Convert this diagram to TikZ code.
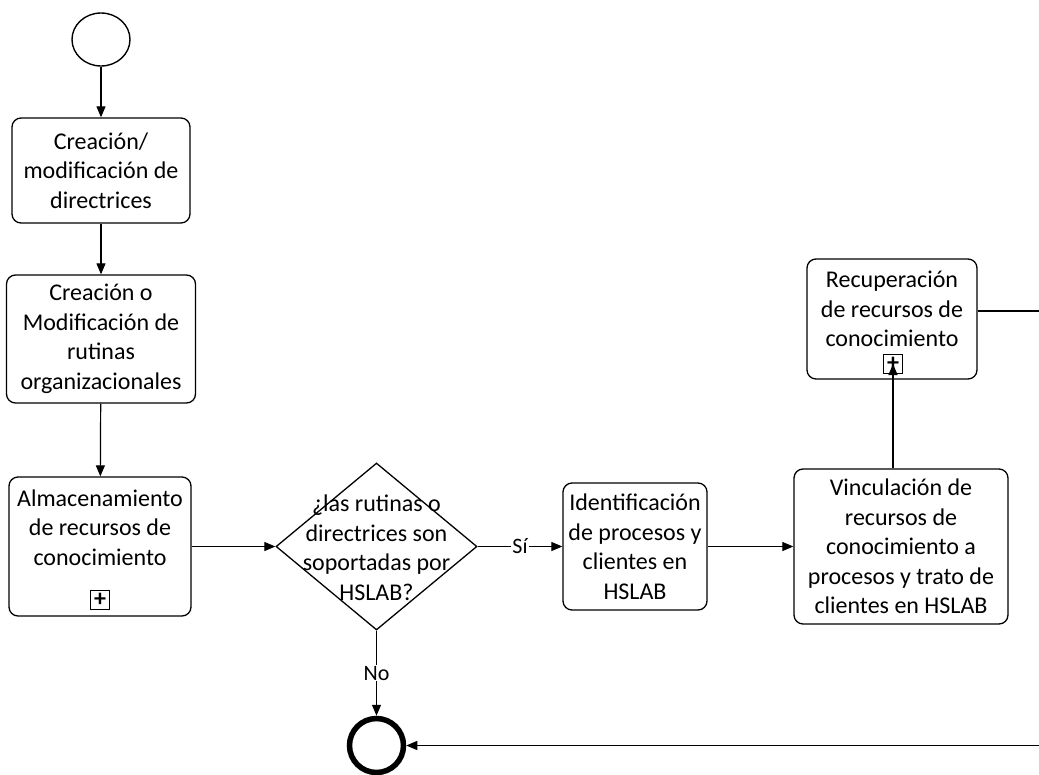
\documentclass[tikz,border=0pt]{standalone}
\usepackage{fontspec}
\setmainfont{Carlito}
\usetikzlibrary{shapes.geometric,arrows.meta}

\begin{document}
\begin{tikzpicture}[x=1pt, y=-1pt, font=\fontsize{24}{29.5}\selectfont,
		task/.style={rectangle, draw, line width=1.3pt, rounded corners=9pt, align=center, inner xsep=3pt},
		txt/.style={align=center, inner sep=0pt},
		sub/.style={rectangle, draw, line width=1.4pt, minimum size=19pt, inner sep=0pt},
		lbl/.style={fill=white, inner sep=1pt, font=\fontsize{22}{26}\selectfont},
		flow/.style={-{Triangle[length=11pt, width=9pt]}, line width=1.2pt}]
			\path[use as bounding box, fill=white] (0,0) rectangle (1039,774);

			\node[ellipse, draw, line width=1.4pt, minimum width=58, minimum height=53, inner sep=0pt] (start) at (101,39.5) {};
			\node[task, minimum width=178, minimum height=105] (crea) at (101,170.5) {Creación/\\modificación de\\directrices};
			\node[task, minimum width=189, minimum height=128] (rut) at (101,339) {Creación o\\Modificación de\\rutinas\\organizacionales};
			\node[task, minimum width=182, minimum height=139] (alm) at (100,546.5) {};
			\node[txt] (almtxt) at (100,527.5) {Almacenamiento\\de recursos de\\conocimiento};
			\node[sub] (almsub) at (100,600) {\bfseries +};

			\node[diamond, draw, line width=1.3pt, minimum width=201, minimum height=167, inner sep=0pt] (dec) at (376.5,546.5) {};
			\node[txt] (dectxt) at (376.5,547.5) {¿las rutinas o\\directrices son\\soportadas por\\HSLAB?};

			\node[task, minimum width=144, minimum height=127] (ident) at (635,546.5) {Identificación\\de procesos y\\clientes en\\HSLAB};
			\node[task, minimum width=214, minimum height=155] (vinc) at (901,546.5) {Vinculación de\\recursos de\\conocimiento a\\procesos y trato de\\clientes en HSLAB};

			\node[task, minimum width=170, minimum height=120] (rec) at (892,319) {};
			\node[txt] (rectxt) at (892,309) {Recuperación\\de recursos de\\conocimiento};
			\node[sub] (recsub) at (893,364) {\bfseries +};

			\node[circle, draw, line width=5.5pt, minimum size=54, inner sep=0pt] (fin) at (376.5,745.5) {};
			\coordinate (off) at (1047,311);

			\draw[flow] (start) -- (crea);
			\draw[flow] (crea) -- (rut);
			\draw[flow] (rut) -- (alm);
			\draw[flow] (alm) -- (dec);
			\draw[flow] (dec) -- node[lbl] (si) {Sí} (ident);
			\draw[flow] (ident) -- (vinc);
			\draw[flow] (recsub |- vinc.north) -- (recsub.center);
			\draw[flow] ([yshift=8pt]rec.east) -- (off) |- (fin);
			\draw[flow] (dec) -- node[lbl] (no) {No} (fin);
		\end{tikzpicture}
\end{document}
